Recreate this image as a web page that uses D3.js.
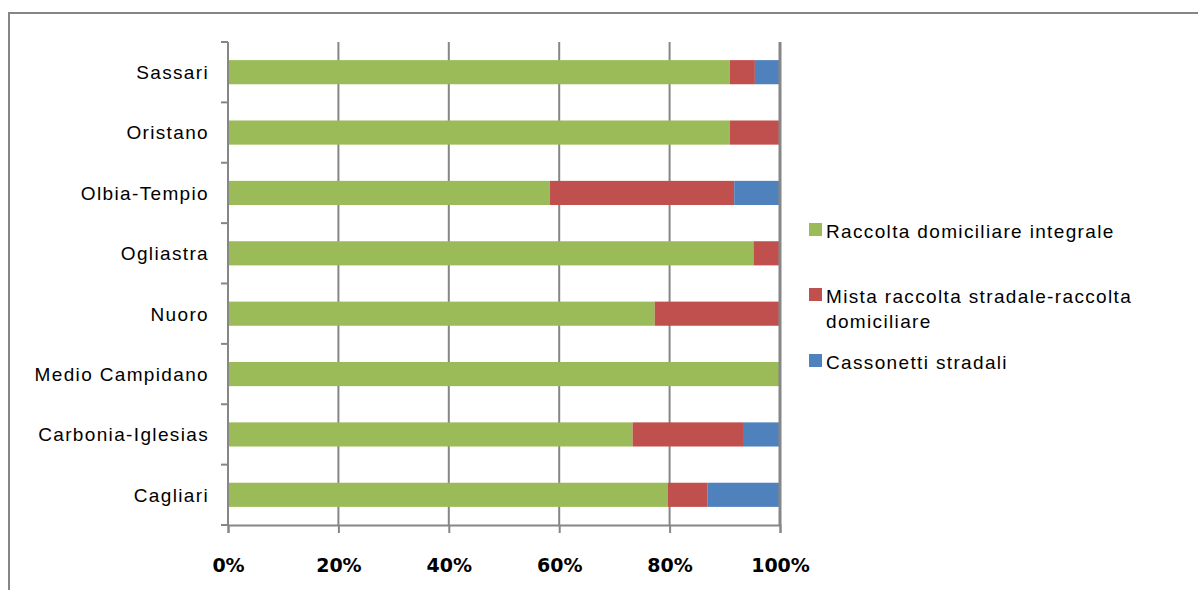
<!DOCTYPE html>
<html>
<head>
<meta charset="utf-8">
<script src="https://cdn.jsdelivr.net/npm/d3@7"></script>
<style>
  html, body { margin: 0; padding: 0; background: #ffffff; }
  svg { display: block; }
</style>
</head>
<body>
<svg id="chart" width="1198" height="590"></svg>
<script>
// Province names, top to bottom
const provinces = ["Sassari", "Oristano", "Olbia-Tempio", "Ogliastra", "Nuoro",
                   "Medio Campidano", "Carbonia-Iglesias", "Cagliari"];

// Share of each collection system per province (percent)
const domiciliareIntegrale = [90.9, 90.9, 58.3, 95.2, 77.3, 100, 73.3, 79.7];
const mistaStradaleDomiciliare = [4.55, 9.1, 33.4, 4.8, 22.7, 0, 20.0, 7.2];
const cassonettiStradali = [4.55, 0, 8.3, 0, 0, 0, 6.7, 13.1];

const seriesNames = ["Raccolta domiciliare integrale",
                     "Mista raccolta stradale-raccolta domiciliare",
                     "Cassonetti stradali"];
const seriesColors = ["#9BBB59", "#C0504D", "#4F81BD"];

const tickValues = [0, 0.2, 0.4, 0.6, 0.8, 1.0];
const tickLabels = ["0%", "20%", "40%", "60%", "80%", "100%"];

const rows = provinces.map((p, i) => ({
  province: p,
  s0: domiciliareIntegrale[i],
  s1: mistaStradaleDomiciliare[i],
  s2: cassonettiStradali[i]
}));

// Normalise each row to 100% stacked
const stack = d3.stack().keys(["s0", "s1", "s2"]).offset(d3.stackOffsetExpand);
const stacked = stack(rows);

const svg = d3.select("#chart");
const gray = "#868686";
const labelFont = "'Liberation Sans', Arial, sans-serif";

// Outer chart frame
svg.append("rect")
  .attr("x", 9).attr("y", 13)
  .attr("width", 1220).attr("height", 620)
  .attr("fill", "none").attr("stroke", gray).attr("stroke-width", 2);

const plot = { left: 228, right: 780, top: 42, bottom: 525 };

const x = d3.scaleLinear().domain([0, 1]).range([plot.left, plot.right]);
const y = d3.scaleBand().domain(provinces)
  .range([plot.top, plot.bottom])
  .paddingInner(0.6).paddingOuter(0.3);

// Vertical gridlines
svg.append("g")
  .selectAll("line")
  .data(tickValues.filter(v => v > 0 && v < 1))
  .join("line")
  .attr("x1", d => x(d)).attr("x2", d => x(d))
  .attr("y1", plot.top).attr("y2", plot.bottom)
  .attr("stroke", gray).attr("stroke-width", 2);

// Stacked bars
svg.append("g")
  .selectAll("g")
  .data(stacked)
  .join("g")
  .attr("fill", (d, i) => seriesColors[i])
  .selectAll("rect")
  .data(d => d)
  .join("rect")
  .attr("x", d => x(d[0]))
  .attr("width", d => Math.max(0, x(d[1]) - x(d[0])))
  .attr("y", d => y(d.data.province))
  .attr("height", y.bandwidth());

// Right edge of plot (100% line)
svg.append("line")
  .attr("x1", x(1)).attr("x2", x(1))
  .attr("y1", plot.top).attr("y2", plot.bottom)
  .attr("stroke", gray).attr("stroke-width", 3);

// Bottom axis
const xAxis = d3.axisBottom(x)
  .tickValues(tickValues)
  .tickFormat((d, i) => tickLabels[i])
  .tickSize(8)
  .tickPadding(26);
const gx = svg.append("g")
  .attr("transform", `translate(0,${plot.bottom})`)
  .call(xAxis);
gx.select(".domain").attr("stroke", gray).attr("stroke-width", 2);
gx.selectAll(".tick line").attr("stroke", gray).attr("stroke-width", 2);
gx.selectAll(".tick text")
  .attr("fill", "#000")
  .attr("font-family", "'DejaVu Sans', Verdana, sans-serif")
  .attr("font-weight", "bold")
  .attr("font-size", 19)
  .attr("dy", "0.71em");

// Left axis line with ticks on category boundaries
const step = y.step();
const boundaries = d3.range(provinces.length + 1)
  .map(i => y(provinces[0]) - step * y.paddingOuter() + i * step);
const gy = svg.append("g");
gy.append("line")
  .attr("x1", plot.left).attr("x2", plot.left)
  .attr("y1", plot.top).attr("y2", plot.bottom)
  .attr("stroke", gray).attr("stroke-width", 2);
gy.selectAll("line.tick")
  .data(boundaries)
  .join("line")
  .attr("class", "tick")
  .attr("x1", plot.left - 7).attr("x2", plot.left)
  .attr("y1", d => d).attr("y2", d => d)
  .attr("stroke", gray).attr("stroke-width", 2);

// Category labels
svg.append("g")
  .selectAll("text")
  .data(provinces)
  .join("text")
  .attr("x", 209)
  .attr("y", d => y(d) + y.bandwidth() / 2)
  .attr("dy", "0.36em")
  .attr("text-anchor", "end")
  .attr("font-family", labelFont)
  .attr("font-size", 19)
  .attr("letter-spacing", "1.35px")
  .attr("fill", "#000")
  .text(d => d);

// Legend
const legendItems = [
  { lines: ["Raccolta domiciliare integrale"], baseline: 238 },
  { lines: ["Mista raccolta stradale-raccolta", "domiciliare"], baseline: 303 },
  { lines: ["Cassonetti stradali"], baseline: 369 }
];
const legend = svg.append("g");
legendItems.forEach((item, i) => {
  legend.append("rect")
    .attr("x", 809).attr("y", item.baseline - 15)
    .attr("width", 13).attr("height", 13)
    .attr("fill", seriesColors[i]);
  const t = legend.append("text")
    .attr("x", 826).attr("y", item.baseline)
    .attr("font-family", labelFont)
    .attr("font-size", 19)
    .attr("letter-spacing", "1.35px")
    .attr("fill", "#000");
  item.lines.forEach((line, j) => {
    t.append("tspan")
      .attr("x", 826)
      .attr("dy", j === 0 ? 0 : 25)
      .text(line);
  });
});
</script>
</body>
</html>
